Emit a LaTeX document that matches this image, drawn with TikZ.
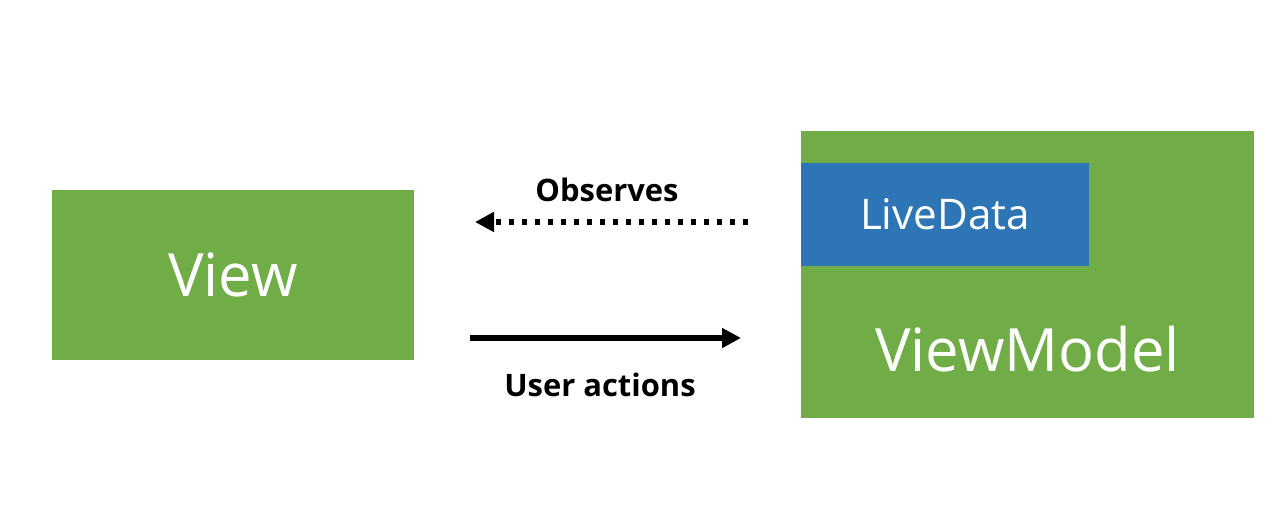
\documentclass[tikz,border=0pt]{standalone}
\usepackage{fontspec}
\setmainfont{Open Sans}
\usetikzlibrary{arrows.meta, positioning, calc}
\definecolor{BoxGreen}{HTML}{70AD47}
\definecolor{BoxBlue}{HTML}{2E75B6}

\tikzset{
  box/.style={fill=BoxGreen, text=white, inner sep=0pt},
  arrowlbl/.style={font=\fontsize{17.6}{21}\selectfont\bfseries, text=black},
  flow/.style={line width=3pt, -{Triangle[length=0.38cm, width=0.38cm]}}
}

\begin{document}
\begin{tikzpicture}
  \useasboundingbox (0,0) rectangle (25.6,10.6);

  % boxes
  \node[box, minimum width=7.24cm, minimum height=3.4cm, font=\fontsize{34}{40}\selectfont] (view) at (4.66, 5.1) {View};
  \node[box, minimum width=9.06cm, minimum height=5.74cm] (viewmodel) at (20.55, 5.11) {};
  \node[box, fill=BoxBlue, anchor=north west, minimum width=5.76cm, minimum height=2.06cm, font=\fontsize{24}{29}\selectfont] (livedata) at ($(viewmodel.north west)+(0,-0.64)$) {LiveData};
  \node[text=white, font=\fontsize{34}{40}\selectfont] (vmlabel) at (20.55, 3.62) {ViewModel};

  % connectors
  \coordinate (obsstart) at (14.96, 6.16);
  \coordinate (obsend) at (9.5, 6.16);
  \draw[flow, dash pattern=on 0.11cm off 0.15cm] (obsstart) -- (obsend);
  \node[arrowlbl] (obslbl) at (12.14, 6.8) {Observes};

  \coordinate (actstart) at (9.4, 3.84);
  \coordinate (actend) at (14.82, 3.84);
  \draw[flow] (actstart) -- (actend);
  \node[arrowlbl] (actlbl) at (12.0, 2.9) {User actions};
\end{tikzpicture}
\end{document}
